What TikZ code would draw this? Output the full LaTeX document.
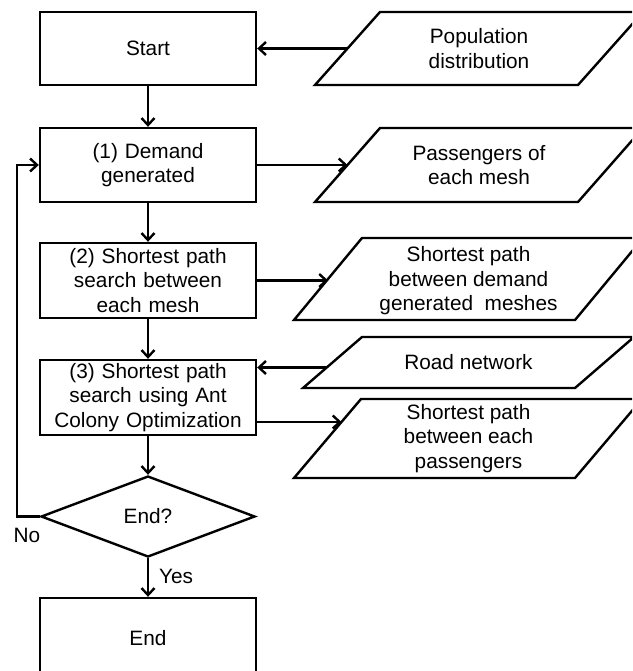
\documentclass[tikz,border=0pt]{standalone}
\usepackage{fontspec}
\setmainfont{Liberation Sans}
\usetikzlibrary{arrows.meta,shapes.geometric}
\begin{document}
\begin{tikzpicture}[x=1pt,y=-1pt,
  every node/.style={font=\fontsize{20.8}{24.5}\selectfont, align=center, inner sep=0pt},
  procbox/.style={draw, line width=2.4pt, minimum width=216pt, text width=200pt},
  iobox/.style={draw, line width=2.4pt, line join=miter},
  arr/.style={line width=2.4pt, -{Straight Barb[length=7pt,width=13pt,line width=2.4pt]}},
  plain/.style={line width=2.4pt}]
\path[use as bounding box] (0,0) rectangle (632,671);
\clip (0,0) rectangle (632,671);
\fill[white] (0,0) rectangle (632,671);
% process boxes
\node[procbox, minimum height=73pt] (start) at (148,48.5) {Start};
\node[procbox, minimum height=74pt] (box1) at (148,165) {(1) Demand\\generated};
\node[procbox, minimum height=75pt] (box2) at (148,280.5) {(2) Shortest path\\search between\\each mesh};
\node[procbox, minimum height=75pt] (box3) at (148,397.5) {(3) Shortest path\\search using Ant\\Colony Optimization};
\node[draw, line width=2.4pt, diamond, aspect=2.64, minimum width=214pt, minimum height=81pt] (dia) at (148,516.5) {End?};
\node[procbox, minimum height=80pt] (endb) at (148,638) {};
\node (endt) at (148,638) {End};
% parallelograms
\draw[iobox] (380,12) -- (643,12) -- (578,85) -- (315,85) -- cycle;
\node (pop) at (479,48.5) {Population\\distribution};
\coordinate (popin) at (347.5,48.5);
\draw[iobox] (380,128) -- (643,128) -- (578,202) -- (315,202) -- cycle;
\node (pas) at (479,165) {Passengers of\\each mesh};
\coordinate (pasin) at (347.5,165);
\draw[iobox] (362,238) -- (643,238) -- (575,320) -- (294,320) -- cycle;
\node (spd) at (468.5,281) {Shortest path\\between demand\\generated\ \ meshes};
\coordinate (spdin) at (328,280.5);
\draw[iobox] (362,337) -- (634,337) -- (575,388) -- (303,388) -- cycle;
\node (road) at (468.5,362.5) {Road network};
\coordinate (roadin) at (326.7,367.5);
\draw[iobox] (361,399) -- (642,399) -- (575,478) -- (294,478) -- cycle;
\node (spe) at (468.5,438.5) {Shortest path\\between each\\passengers};
\coordinate (spein) at (341.5,422);
% connectors
\draw[arr] (popin) -- (start.east);
\draw[arr] (start.south) -- (box1.north);
\draw[arr] (box1.east) -- (pasin);
\draw[arr] (box1.south) -- (box2.north);
\draw[arr] (box2.east) -- (spdin);
\draw[arr] (box2.south) -- (box3.north);
\draw[arr] (roadin) -- (roadin -| box3.east);
\draw[arr] (spein -| box3.east) -- (spein);
\draw[arr] (box3.south) -- (dia.north);
\draw[arr] (dia.south) -- (endb.north);
\coordinate (fb) at (17,0);
\draw[arr] (dia.west) -- (dia.west -| fb) |- (box1.west);
% labels
\node (no) at (27,535) {No};
\node (yes) at (176,576) {Yes};
\end{tikzpicture}
\end{document}
